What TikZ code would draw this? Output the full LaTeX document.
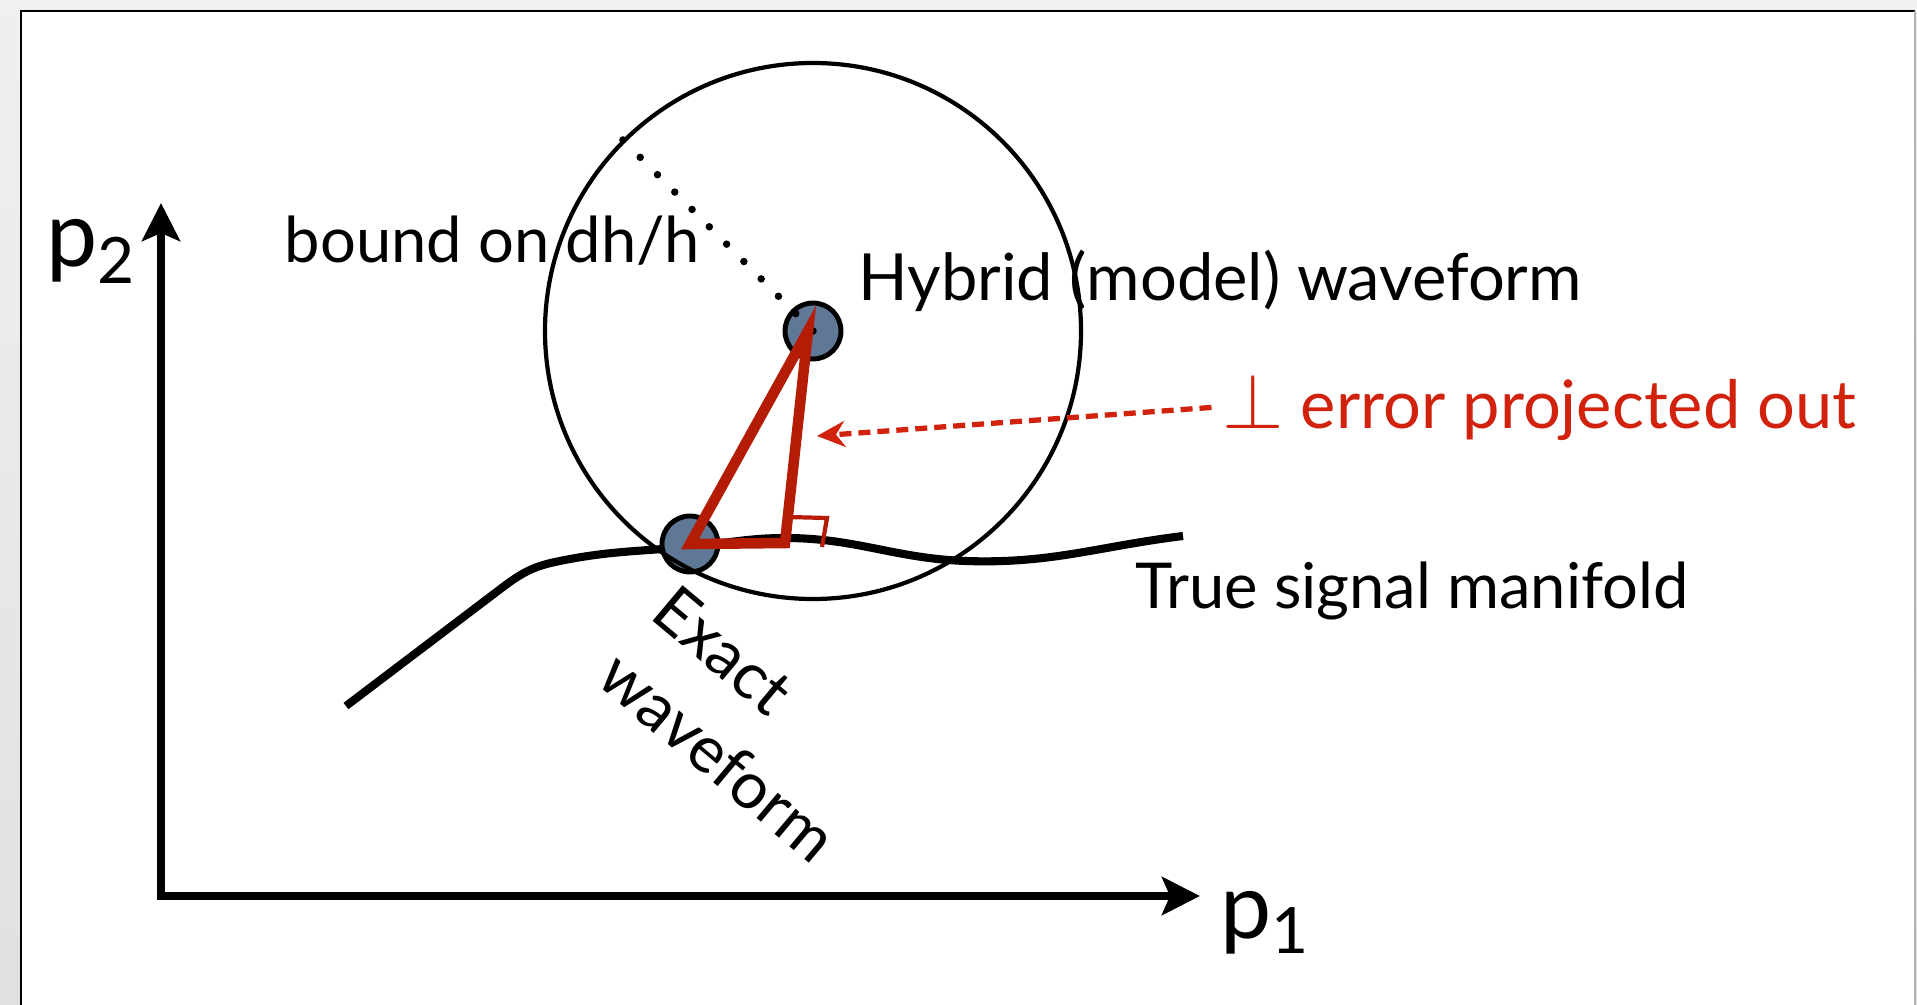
\documentclass[tikz,border=0pt]{standalone}
\usepackage{fontspec}
\setmainfont{Lato}
\usepackage{xcolor}
\usepackage{tikz}
\usetikzlibrary{arrows.meta, positioning, calc}
\definecolor{dotblue}{HTML}{5F7896}
\definecolor{trired}{HTML}{B51C06}
\definecolor{txtred}{HTML}{D0220C}

\begin{document}
\begin{tikzpicture}[
    lbl/.style={font=\fontsize{18.5}{24}\selectfont, inner sep=0pt},
    axlbl/.style={font=\fontsize{26}{30}\selectfont, inner sep=0pt},
    wdot/.style={circle, draw=black, line width=1.4pt, fill=dotblue,
                 minimum size=0.56cm, inner sep=0pt},
    axis/.style={line width=2.1pt, line join=miter,
                 arrows={Stealth[length=0.38cm,width=0.38cm,inset=0.08cm]-Stealth[length=0.38cm,width=0.38cm,inset=0.08cm]}},
    errarrow/.style={txtred, line width=1.5pt, dash pattern=on 0.12cm off 0.07cm,
                 -{Stealth[length=0.28cm,width=0.26cm,inset=0.09cm]}},
    tri/.style={trired, line width=3pt, line join=miter},
  ]
  % ---- slide background and panel ----
  \useasboundingbox (0,0) rectangle (19.17,10.04);
  \shade[top color=gray!12, bottom color=gray!24] (0,0) rectangle (19.17,10.04);
  \fill[white] (0.21,-0.3) rectangle (19.15,9.93);
  \draw[line width=0.8pt] (0.21,-0.3) -- (0.21,9.93) -- (19.15,9.93);
  \draw[gray!60, line width=0.6pt] (19.15,9.93) -- (19.15,-0.3);

  % ---- axes ----
  \coordinate (O) at (1.61,1.08);
  \coordinate (ytip) at (1.61,8.01);
  \coordinate (xtip) at (12.00,1.08);
  \draw[axis] (ytip) -- (O) -- (xtip);
  \node[axlbl, anchor=base west] (ptwo) at (0.46,7.37) {p\textsubscript{2}};
  \node[axlbl, anchor=base west] (pone) at (12.20,0.66) {p\textsubscript{1}};

  % ---- true signal manifold ----
  \draw[line width=2.3pt] (3.46,2.98) -- (5.03,4.17) to[out=37,in=192] (5.55,4.42)
    to[out=12,in=185] (6.88,4.57) to[out=5,in=180] (7.85,4.66)
    to[out=0,in=178] (9.66,4.43) to[out=-2,in=187] (11.83,4.68);
  \node[lbl, font=\fontsize{18}{24}\selectfont, anchor=base west] (manif) at (11.35,3.96) {True signal manifold};

  % ---- waveforms and error ball ----
  \node[wdot] (exact) at (6.90,4.60) {};
  \node[wdot] (hyb) at (8.13,6.73) {};
  \draw[line width=1.2pt] (hyb.center) circle (2.68);
  \coordinate (rim) at (6.17,8.70);
  \draw[line width=0.075cm, dash pattern=on 0pt off 0.245cm, line cap=round]
    (hyb.center) -- (rim);
  \node[lbl, font=\fontsize{18}{24}\selectfont, anchor=base west] (bound) at (2.84,7.41) {bound on dh/h};
  \node[lbl, anchor=base west] (hyblbl) at (8.58,7.03) {Hybrid (model) waveform};
  \node[lbl, rotate=-40, align=left] (exlbl) at (7.45,2.80) {Exact\\waveform};

  % ---- projection triangle ----
  \coordinate (foot) at (7.85,4.61);
  \draw[tri] ($(hyb.center)+(-0.05,0)$) -- (exact.center) -- (foot) -- cycle;
  \draw[trired, line width=1.2pt] ($(foot)+(0.03,0.26)$) -- ++(0.39,-0.01) -- ++(-0.05,-0.29);

  % ---- perpendicular error label ----
  \node[lbl, font=\fontsize{19}{24}\selectfont, anchor=base west, text=txtred] (err) at (12.22,5.76)
    {\scalebox{1.3}{$\perp$}\hspace{0.25em}error projected out};
  \coordinate (errtip) at (8.17,5.68);
  \draw[errarrow, shorten <=3pt] (err.west) -- (errtip);
\end{tikzpicture}
\end{document}
